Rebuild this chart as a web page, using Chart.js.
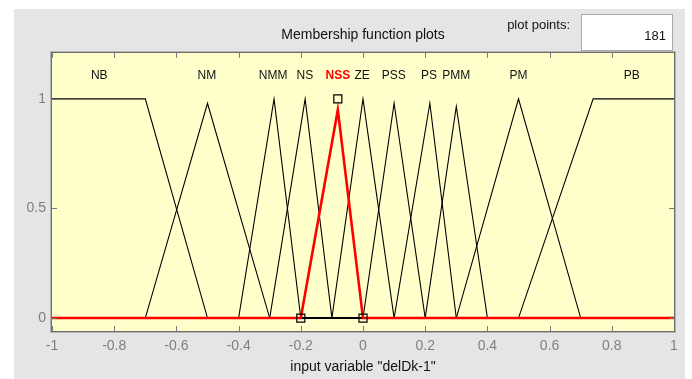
<!DOCTYPE html>
<html><head><meta charset="utf-8">
<script src="https://cdn.jsdelivr.net/npm/chart.js@4/dist/chart.umd.min.js"></script>
<style>html,body{margin:0;padding:0;background:#fff;overflow:hidden}canvas{display:block}</style>
</head><body>
<canvas id="c" width="692" height="379"></canvas>
<script>
// Membership function breakpoints (x, membership)
const NB_x  = [-1, -0.7, -0.5, 1];          const NB_y  = [1, 1, 0, 0];
const NM_x  = [-1, -0.7, -0.5, -0.3, 1];    const NM_y  = [0, 0, 0.98, 0, 0];
const NMM_x = [-1, -0.4, -0.286, -0.2, 1];  const NMM_y = [0, 0, 1, 0, 0];
const NS_x  = [-1, -0.3, -0.186, -0.1, 1];  const NS_y  = [0, 0, 1, 0, 0];
const NSS_x = [-1, -0.2, -0.081, 0, 1];     const NSS_y = [0, 0, 0.95, 0, 0];
const ZE_x  = [-1, -0.1, 0, 0.1, 1];        const ZE_y  = [0, 0, 1, 0, 0];
const PSS_x = [-1, 0, 0.1, 0.2, 1];         const PSS_y = [0, 0, 0.98, 0, 0];
const PS_x  = [-1, 0.1, 0.215, 0.3, 1];     const PS_y  = [0, 0, 0.98, 0, 0];
const PMM_x = [-1, 0.2, 0.3, 0.4, 1];       const PMM_y = [0, 0, 0.965, 0, 0];
const PM_x  = [-1, 0.3, 0.5, 0.7, 1];       const PM_y  = [0, 0, 1, 0, 0];
const PB_x  = [-1, 0.5, 0.74, 1];           const PB_y  = [0, 0, 1, 1];

const mfNames  = ['NB', 'NM', 'NMM', 'NS', 'NSS', 'ZE', 'PSS', 'PS', 'PMM', 'PM', 'PB'];
const labelX   = [-0.848, -0.502, -0.289, -0.187, -0.081, -0.003, 0.099, 0.212, 0.3, 0.5, 0.864];
const labelY   = 1.105;
const selected = 'NSS';
const markerX  = [-0.2, -0.081, 0];
const markerY  = [0, 1, 0];
const xTicks   = [-1, -0.8, -0.6, -0.4, -0.2, 0, 0.2, 0.4, 0.6, 0.8, 1];
const yTicks   = [0, 0.5, 1];
const plotPoints = '181';
const titleText = 'Membership function plots';
const xTitle = 'input variable "delDk-1"';

const mfXs = [NB_x, NM_x, NMM_x, NS_x, NSS_x, ZE_x, PSS_x, PS_x, PMM_x, PM_x, PB_x];
const mfYs = [NB_y, NM_y, NMM_y, NS_y, NSS_y, ZE_y, PSS_y, PS_y, PMM_y, PM_y, PB_y];

const FONT = "'Liberation Sans', Arial, sans-serif";

const datasets = mfNames.map((n, i) => {
  const sel = n === selected;
  return {
    label: n,
    data: mfXs[i].map((x, j) => ({x: x, y: mfYs[i][j]})),
    borderColor: sel ? '#ff0000' : '#000000',
    borderWidth: sel ? 2.6 : 1.1,
    pointRadius: 0,
    tension: 0,
    fill: false,
    order: sel ? 1 : 2
  };
});
datasets.push({
  label: 'params',
  data: markerX.map((x, j) => ({x: x, y: markerY[j]})),
  showLine: false,
  pointStyle: 'rect',
  pointRadius: 5.7,
  pointBorderColor: '#000',
  pointBackgroundColor: 'rgba(0,0,0,0)',
  pointBorderWidth: 1.2,
  order: 0
});

const framePlugin = {
  id: 'frame',
  beforeDraw(chart) {
    const ctx = chart.ctx, a = chart.chartArea;
    ctx.save();
    ctx.fillStyle = '#ffffff';
    ctx.fillRect(0, 0, chart.width, chart.height);
    ctx.fillStyle = '#e5e5e5';
    ctx.fillRect(14, 9, 671, chart.height - 9);
    ctx.fillStyle = '#ffffcc';
    ctx.fillRect(a.left, a.top, a.right - a.left, a.bottom - a.top);
    ctx.restore();
  },
  afterDatasetsDraw(chart) {
    const ctx = chart.ctx, a = chart.chartArea;
    const xs = chart.scales.x, ys = chart.scales.y;
    ctx.save();
    // inside tick marks
    ctx.strokeStyle = '#7a7a7a';
    ctx.lineWidth = 1;
    ctx.beginPath();
    xTicks.forEach(v => {
      const px = Math.round(xs.getPixelForValue(v)) + 0.5;
      ctx.moveTo(px, a.top); ctx.lineTo(px, a.top + 5);
      ctx.moveTo(px, a.bottom); ctx.lineTo(px, a.bottom - 5);
    });
    yTicks.forEach(v => {
      const py = Math.round(ys.getPixelForValue(v)) + 0.5;
      ctx.moveTo(a.left, py); ctx.lineTo(a.left + 5, py);
      ctx.moveTo(a.right, py); ctx.lineTo(a.right - 5, py);
    });
    ctx.stroke();
    // box
    ctx.strokeStyle = '#6e6e6e';
    ctx.strokeRect(Math.round(a.left) - 0.5, Math.round(a.top) - 0.5,
                   Math.round(a.right - a.left) + 1, Math.round(a.bottom - a.top) + 1);
    ctx.strokeStyle = '#b4b4b4';
    ctx.strokeRect(Math.round(a.left) - 1.5, Math.round(a.top) - 1.5,
                   Math.round(a.right - a.left) + 3, Math.round(a.bottom - a.top) + 3);
    // MF names
    ctx.textAlign = 'center';
    ctx.textBaseline = 'middle';
    mfNames.forEach((n, i) => {
      const sel = n === selected;
      ctx.font = (sel ? 'bold ' : '') + '12px ' + FONT;
      ctx.fillStyle = sel ? '#ff0000' : '#111111';
      ctx.fillText(n, xs.getPixelForValue(labelX[i]), ys.getPixelForValue(labelY));
    });
    // plot points control
    ctx.fillStyle = '#ffffff';
    ctx.fillRect(582, 15, 91, 36);
    ctx.strokeStyle = '#a9a9a9';
    ctx.strokeRect(581.5, 14.5, 91, 36);
    ctx.fillStyle = '#111111';
    ctx.font = '13px ' + FONT;
    ctx.textAlign = 'right';
    ctx.fillText('plot points:', 570, 25);
    ctx.font = '13px ' + FONT;
    ctx.fillText(plotPoints, 666, 36);
    ctx.restore();
  }
};

new Chart(document.getElementById('c'), {
  type: 'line',
  data: {datasets: datasets},
  options: {
    responsive: false,
    animation: false,
    devicePixelRatio: 1,
    layout: {padding: {left: 0, right: 18, top: 0, bottom: 0}},
    plugins: {
      legend: {display: false},
      tooltip: {enabled: false},
      title: {
        display: true,
        text: titleText,
        fullSize: false,
        color: '#111111',
        font: {family: FONT, size: 14, weight: 'normal', lineHeight: 1.2},
        padding: {top: 27, bottom: 9}
      }
    },
    scales: {
      x: {
        type: 'linear',
        min: -1, max: 1,
        afterBuildTicks: s => { s.ticks = xTicks.map(v => ({value: v})); },
        afterFit: s => { s.height = 48; },
        grid: {display: false, drawTicks: false},
        border: {display: false},
        ticks: {
          color: '#7f7f7f', padding: 7, maxRotation: 0, autoSkip: false,
          font: {family: FONT, size: 14, lineHeight: 1.2},
          callback: v => String(Math.round(v * 10) / 10)
        },
        title: {
          display: true, text: xTitle, color: '#111111',
          font: {family: FONT, size: 14, lineHeight: 1.2},
          padding: {top: 0, bottom: 3.6}
        }
      },
      y: {
        type: 'linear',
        min: -0.059, max: 1.21,
        afterBuildTicks: s => { s.ticks = yTicks.map(v => ({value: v})); },
        afterFit: s => { s.width = 52; },
        grid: {display: false, drawTicks: false},
        border: {display: false},
        ticks: {
          color: '#7f7f7f', padding: 6,
          font: {family: FONT, size: 14, lineHeight: 1.2},
          callback: v => String(v)
        }
      }
    }
  },
  plugins: [framePlugin]
});
</script>
</body></html>
